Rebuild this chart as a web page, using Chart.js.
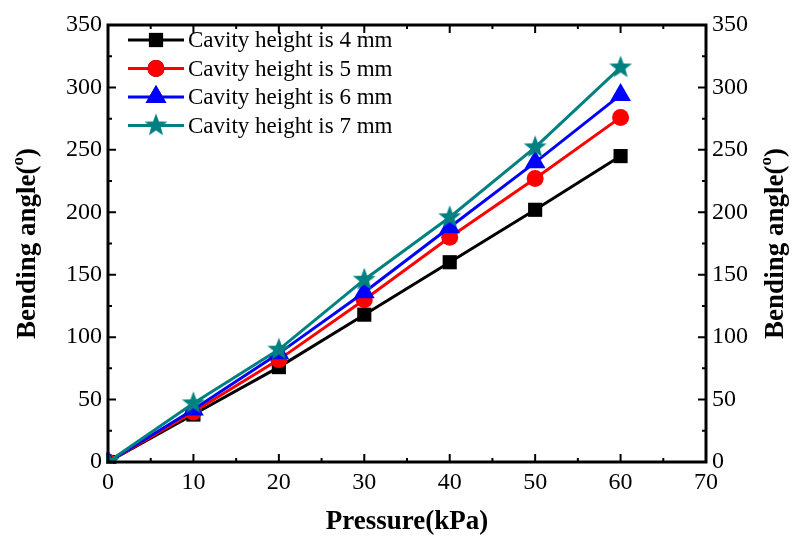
<!DOCTYPE html>
<html>
<head>
<meta charset="utf-8">
<script src="https://cdn.jsdelivr.net/npm/chart.js@4.4.1/dist/chart.umd.min.js"></script>
<style>
  html, body { margin: 0; padding: 0; background: #fff; }
  #wrap { width: 796px; height: 537px; }
</style>
</head>
<body>
<div id="wrap"><canvas id="bendChart"></canvas></div>
<script>
// data
var pressure = [0, 10, 20, 30, 40, 50, 60];
var h4mm = [0, 38, 76, 118, 160, 202, 245];
var h5mm = [0, 40, 82, 130, 180, 227, 276];
var h6mm = [0, 42, 87, 136, 188, 240, 294];
var h7mm = [0, 47, 90, 146, 196, 252, 316];
var seriesNames = ['Cavity height is 4 mm', 'Cavity height is 5 mm', 'Cavity height is 6 mm', 'Cavity height is 7 mm'];

function pts(vals) {
  return pressure.map(function (p, i) { return { x: p, y: vals[i] }; });
}

// filled five point star for the 7 mm series
function makeStar(color, outer) {
  var c = document.createElement('canvas');
  c.width = c.height = outer * 2 + 2;
  var g = c.getContext('2d');
  var cx = c.width / 2, cy = c.height / 2, inner = outer * 0.42;
  g.beginPath();
  for (var i = 0; i < 10; i++) {
    var r = i % 2 === 0 ? outer : inner;
    var a = -Math.PI / 2 + i * Math.PI / 5;
    g.lineTo(cx + r * Math.cos(a), cy + r * Math.sin(a));
  }
  g.closePath();
  g.fillStyle = color;
  g.fill();
  return c;
}
var star = makeStar('#008080', 12);

var serif = "'Liberation Serif', 'Times New Roman', serif";

var framePlugin = {
  id: 'frame',
  afterDraw: function (chart) {
    var ctx = chart.ctx, a = chart.chartArea;
    var xs = chart.scales.x, ys = chart.scales.y;
    ctx.save();
    ctx.strokeStyle = '#000';
    ctx.lineWidth = 3;
    ctx.strokeRect(a.left, a.top, a.right - a.left, a.bottom - a.top);
    ctx.lineWidth = 2;
    ctx.beginPath();
    for (var v = 0; v <= 70; v += 5) {
      var px = xs.getPixelForValue(v);
      var len = v % 10 === 0 ? 8 : 4;
      ctx.moveTo(px, a.bottom); ctx.lineTo(px, a.bottom - len);
      ctx.moveTo(px, a.top); ctx.lineTo(px, a.top + len);
    }
    for (var w = 0; w <= 350; w += 25) {
      var py = ys.getPixelForValue(w);
      var l2 = w % 50 === 0 ? 8 : 4;
      ctx.moveTo(a.left, py); ctx.lineTo(a.left + l2, py);
      ctx.moveTo(a.right, py); ctx.lineTo(a.right - l2, py);
    }
    ctx.stroke();

    // axis titles
    ctx.fillStyle = '#000';
    ctx.textBaseline = 'middle';
    ctx.textAlign = 'center';
    ctx.font = 'bold 27px ' + serif;
    ctx.fillText('Pressure(kPa)', (a.left + a.right) / 2, 522);

    function yTitle(x) {
      ctx.save();
      ctx.translate(x, (a.top + a.bottom) / 2);
      ctx.rotate(-Math.PI / 2);
      var p1 = 'Bending angle(', p3 = ')';
      ctx.font = 'bold 17px ' + serif;
      var wSup = ctx.measureText('o').width;
      ctx.font = 'bold 27px ' + serif;
      var w1 = ctx.measureText(p1).width, w3 = ctx.measureText(p3).width;
      var start = -(w1 + wSup + w3) / 2;
      ctx.textAlign = 'left';
      ctx.fillText(p1, start, 0);
      ctx.font = 'bold 17px ' + serif;
      ctx.fillText('o', start + w1, -9);
      ctx.font = 'bold 27px ' + serif;
      ctx.fillText(p3, start + w1 + wSup, 0);
      ctx.restore();
    }
    yTitle(28);
    yTitle(776);

    // legend inside the plot, top left
    ctx.font = '23px ' + serif;
    ctx.textAlign = 'left';
    chart.data.datasets.forEach(function (ds, i) {
      var y = a.top + 15 + i * 28.5;
      ctx.strokeStyle = ds.borderColor;
      ctx.lineWidth = 3;
      ctx.beginPath();
      ctx.moveTo(a.left + 20, y); ctx.lineTo(a.left + 76, y);
      ctx.stroke();
      var mx = a.left + 48;
      if (ds.pointStyle === star) {
        ctx.drawImage(star, mx - star.width / 2, y - star.height / 2);
      } else {
        Chart.helpers.drawPoint(ctx, { pointStyle: ds.pointStyle, radius: ds.pointRadius, borderWidth: 0 }, mx, y);
        ctx.fillStyle = ds.pointBackgroundColor;
        ctx.fill();
      }
      ctx.fillStyle = '#000';
      ctx.fillText(ds.label, a.left + 80, y + 1);
    });
    ctx.restore();
  }
};

var tickFont = { family: serif, size: 24 };

new Chart(document.getElementById('bendChart'), {
  type: 'line',
  data: {
    datasets: [
      { label: seriesNames[0], data: pts(h4mm), borderColor: '#000000', pointBackgroundColor: '#000000',
        pointBorderColor: '#000000', pointStyle: 'rect', pointRadius: 10, order: 4 },
      { label: seriesNames[1], data: pts(h5mm), borderColor: '#ff0000', pointBackgroundColor: '#ff0000',
        pointBorderColor: '#ff0000', pointStyle: 'circle', pointRadius: 8.5, order: 3 },
      { label: seriesNames[2], data: pts(h6mm), borderColor: '#0000ff', pointBackgroundColor: '#0000ff',
        pointBorderColor: '#0000ff', pointStyle: 'triangle', pointRadius: 12, order: 2 },
      { label: seriesNames[3], data: pts(h7mm), borderColor: '#008080', pointBackgroundColor: '#008080',
        pointBorderColor: '#008080', pointStyle: star, pointRadius: 12, order: 1 }
    ]
  },
  options: {
    responsive: true,
    maintainAspectRatio: false,
    animation: false,
    clip: 2,
    elements: {
      line: { borderWidth: 3, tension: 0 },
      point: { borderWidth: 0, hoverRadius: 10 }
    },
    layout: { padding: { top: 25, left: 0, right: 0, bottom: 0 } },
    plugins: { legend: { display: false }, tooltip: { enabled: false } },
    scales: {
      x: {
        type: 'linear', min: 0, max: 70,
        ticks: { stepSize: 10, color: '#000', font: tickFont, padding: 6, maxRotation: 0 },
        grid: { display: false, drawTicks: false },
        border: { display: false },
        afterFit: function (s) { s.height = 75; }
      },
      y: {
        position: 'left', min: 0, max: 350,
        ticks: { stepSize: 50, color: '#000', font: tickFont, padding: 6 },
        grid: { display: false, drawTicks: false },
        border: { display: false },
        afterFit: function (s) { s.width = 108; }
      },
      y2: {
        position: 'right', min: 0, max: 350,
        ticks: { stepSize: 50, color: '#000', font: tickFont, padding: 6 },
        grid: { display: false, drawTicks: false },
        border: { display: false },
        afterFit: function (s) { s.width = 90; }
      }
    }
  },
  plugins: [framePlugin]
});
</script>
</body>
</html>
